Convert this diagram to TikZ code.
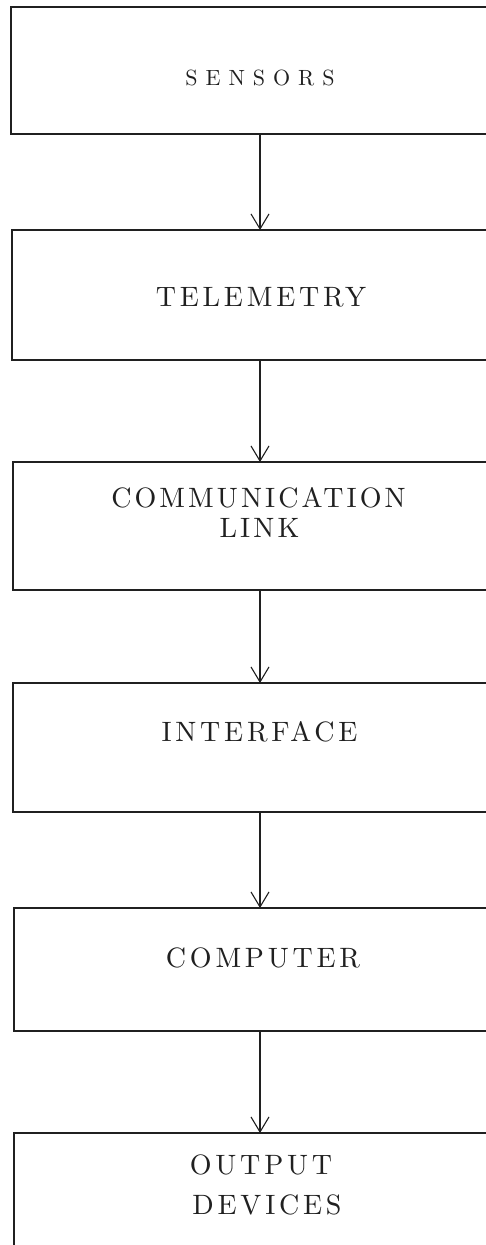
\documentclass[tikz,border=0pt]{standalone}
\usepackage{fontspec}
\usetikzlibrary{arrows.meta}
\newfontfamily\lblfont{lmroman10-regular.otf}[LetterSpace=13.5]
\newfontfamily\lblfontN{lmroman10-regular.otf}[LetterSpace=11]
\newfontfamily\lblfontS{lmroman10-regular.otf}[LetterSpace=36]
\definecolor{ink}{HTML}{202020}
\tikzset{
  x=1pt, y=-1pt,
  box/.style={draw=ink, line width=1.4pt, inner sep=0pt, outer sep=0pt, anchor=north west},
  arr/.style={draw=ink, line width=1.1pt, -{Straight Barb[length=15pt,width=18pt,line width=1.1pt]}},
  lbl/.style={text=ink, inner sep=0pt, anchor=base, font=\lblfont\fontsize{28}{30}\selectfont},
  lblnarrow/.style={lbl, font=\lblfontN\fontsize{28}{30}\selectfont},
  lblsmall/.style={text=ink, inner sep=0pt, anchor=base, font=\lblfontS\fontsize{22}{24}\selectfont}
}
\begin{document}
\begin{tikzpicture}
\useasboundingbox[fill=white] (0,0) rectangle (485,1245);
\node[box, minimum width=481pt, minimum height=127pt] (b1) at (11,7) {};
\node[box, minimum width=480pt, minimum height=130pt] (b2) at (12,230) {};
\node[box, minimum width=479pt, minimum height=128pt] (b3) at (13,462) {};
\node[box, minimum width=479pt, minimum height=129pt] (b4) at (13,683) {};
\node[box, minimum width=478pt, minimum height=123pt] (b5) at (14,908) {};
\node[box, minimum width=478pt, minimum height=130pt] (b6) at (14,1133) {};
\coordinate (ax) at (260,0);
\node[lblsmall] (t1) at (260,85) {SENSORS};
\node[lbl] (t2) at (261,306) {TELEMETRY};
\node[lblnarrow] (t3a) at (258.5,507) {COMMUNICATION};
\node[lblnarrow] (t3b) at (259.5,537) {LINK};
\node[lbl] (t4) at (259.5,741) {INTERFACE};
\node[lbl] (t5) at (263,967) {COMPUTER};
\node[lbl] (t6a) at (261,1174) {OUTPUT};
\node[lbl] (t6b) at (267,1214) {DEVICES};
\draw[arr] (b1.south -| ax) -- (b2.north -| ax);
\draw[arr] (b2.south -| ax) -- (b3.north -| ax);
\draw[arr] (b3.south -| ax) -- (b4.north -| ax);
\draw[arr] (b4.south -| ax) -- (b5.north -| ax);
\draw[arr] (b5.south -| ax) -- (b6.north -| ax);
\end{tikzpicture}
\end{document}
